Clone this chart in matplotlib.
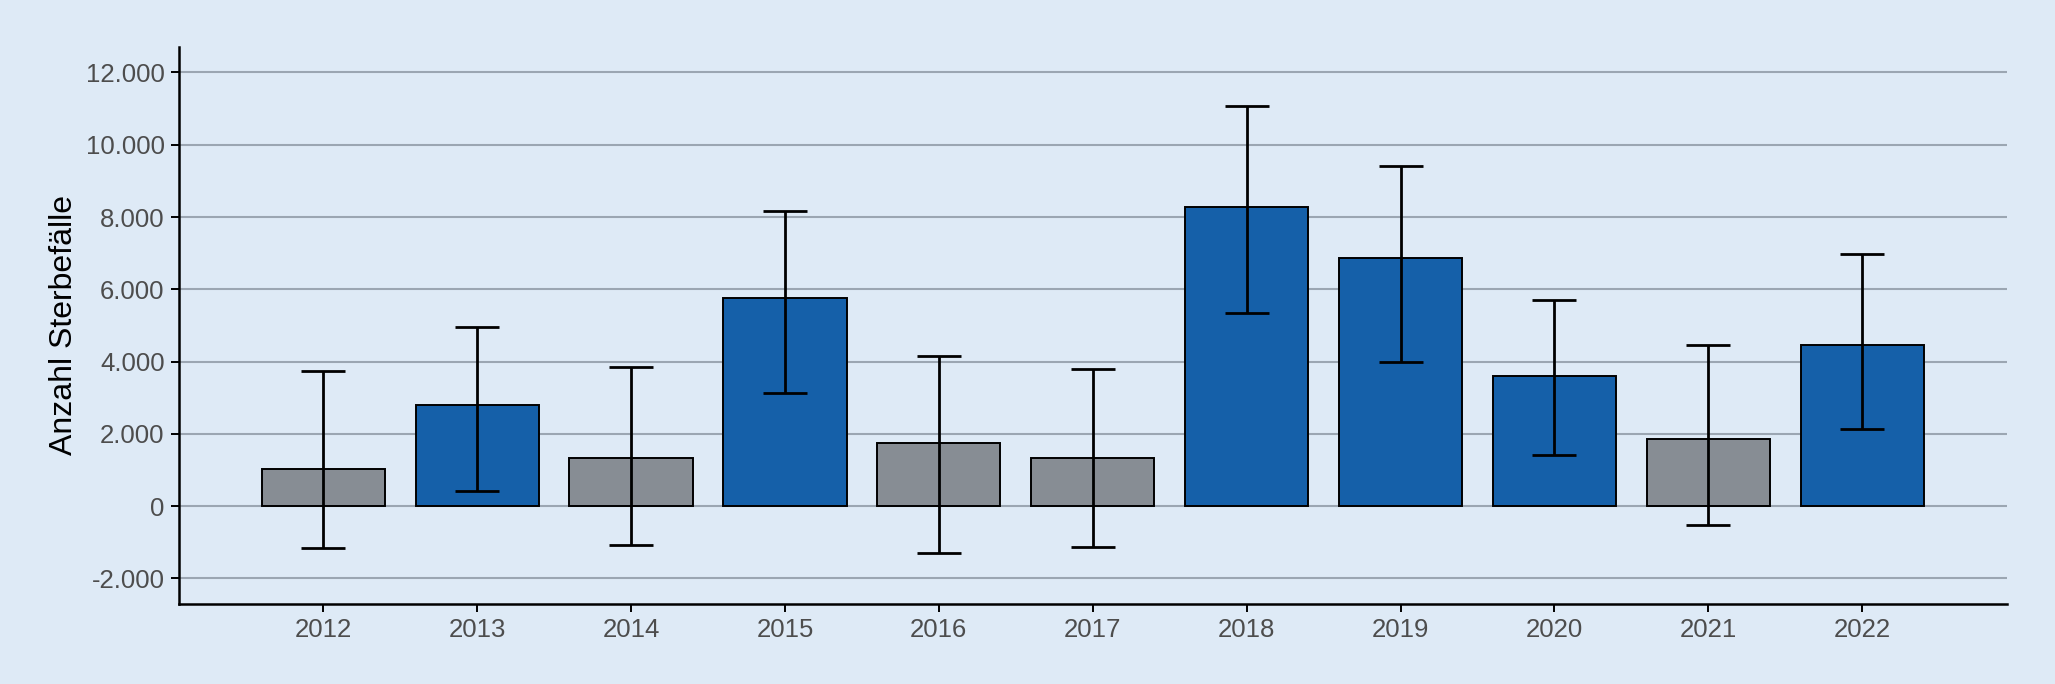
import matplotlib; matplotlib.use('Agg')
import numpy as np
from matplotlib import pyplot as plt
from matplotlib.ticker import FuncFormatter

plt.rcParams.update({
    'font.family': ['Liberation Sans', 'DejaVu Sans'],
})

BG = '#deeaf6'
BLUE = '#1560a9'
GREY = '#878d94'
GRID = '#9ba6b2'

years = ['2012', '2013', '2014', '2015', '2016', '2017',
         '2018', '2019', '2020', '2021', '2022']
deaths = [1025, 2805, 1325, 5750, 1750, 1340, 8280, 6870, 3590, 1855, 4470]
ci_low = [-1145, 420, -1085, 3135, -1300, -1130, 5350, 3990, 1420, -520, 2135]
ci_high = [3745, 4950, 3845, 8180, 4160, 3795, 11070, 9410, 5700, 4470, 6975]

deaths = np.array(deaths)
ci_low = np.array(ci_low)
ci_high = np.array(ci_high)
# significant = lower bound above zero
colors = [BLUE if lo > 0 else GREY for lo in ci_low]

fig = plt.figure(figsize=(20.55, 6.84), dpi=100, facecolor=BG)
ax = fig.add_axes([0.0869, 0.1173, 0.8897, 0.8138], facecolor=BG)

x = np.arange(len(years))
ax.set_axisbelow(True)
ax.yaxis.grid(True, color=GRID, linewidth=1.5)
ax.bar(x, deaths, width=0.8, color=colors, edgecolor='black', linewidth=1.4)
ax.errorbar(x, deaths, yerr=[deaths - ci_low, ci_high - deaths],
            fmt='none', ecolor='black', elinewidth=2.0, capsize=16,
            capthick=2.0)

ax.set_xlim(-0.94, len(years) - 1 + 0.94)
ax.set_ylim(-2700, 12700)
ax.set_xticks(x)
ax.set_xticklabels(years)
ax.set_yticks(np.arange(-2000, 12001, 2000))
ax.yaxis.set_major_formatter(
    FuncFormatter(lambda v, p: f'{int(v):,}'.replace(',', '.')))

for s in ['top', 'right']:
    ax.spines[s].set_visible(False)
for s in ['left', 'bottom']:
    ax.spines[s].set_linewidth(1.8)
    ax.spines[s].set_color('black')

ax.tick_params(axis='both', length=6, width=1.4, color='black',
               labelsize=18.5, labelcolor='#4d4d4d', pad=4)
ax.set_ylabel('Anzahl Sterbefälle', fontsize=23, color='black', labelpad=5)

plt.savefig('out.png', dpi=100, facecolor=BG)
plt.close()
